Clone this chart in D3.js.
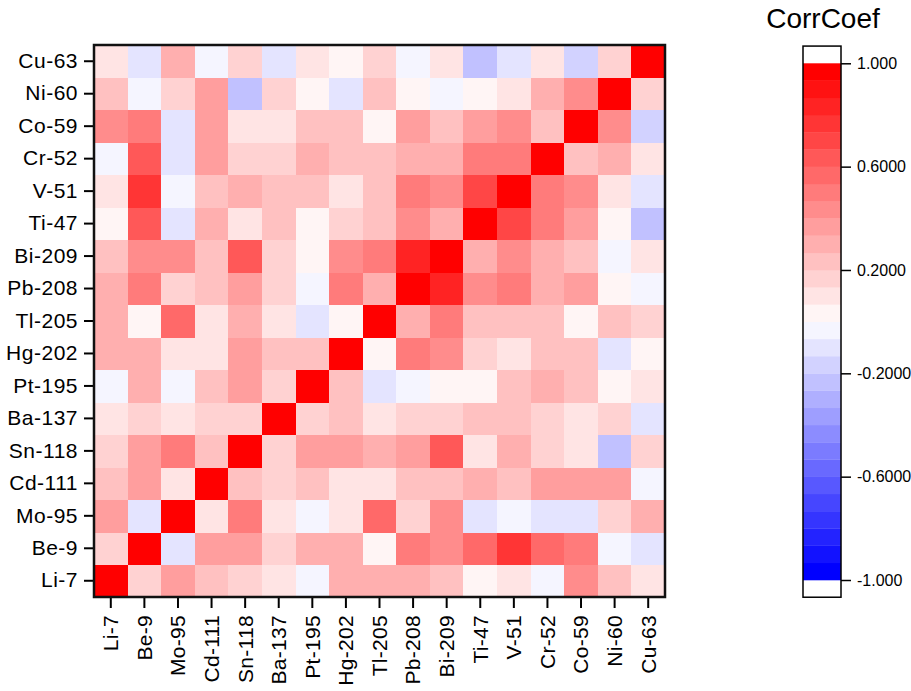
<!DOCTYPE html>
<html>
<head>
<meta charset="utf-8">
<script src="https://cdn.jsdelivr.net/npm/d3@7"></script>
<style>
  html, body { margin: 0; padding: 0; background: #fff; }
  svg { display: block; font-family: "Liberation Sans", Arial, sans-serif; }
</style>
</head>
<body>
<svg id="chart" width="911" height="691"></svg>
<script>
// ---- data ----
const elements = ["Li-7","Be-9","Mo-95","Cd-111","Sn-118","Ba-137","Pt-195","Hg-202","Tl-205","Pb-208","Bi-209","Ti-47","V-51","Cr-52","Co-59","Ni-60","Cu-63"];

// correlation rows, one per element (same order as `elements`)
const rowLi7  = [1, 0.17, 0.37, 0.23, 0.17, 0.10, -0.03, 0.30, 0.30, 0.30, 0.23, 0.03, 0.10, -0.03, 0.43, 0.23, 0.10];
const rowBe9  = [0.17, 1, -0.10, 0.37, 0.37, 0.17, 0.30, 0.30, 0.03, 0.50, 0.43, 0.57, 0.77, 0.57, 0.50, -0.03, -0.10];
const rowMo95 = [0.37, -0.10, 1, 0.10, 0.50, 0.10, -0.03, 0.10, 0.57, 0.17, 0.43, -0.10, -0.03, -0.10, -0.10, 0.17, 0.30];
const rowCd111= [0.23, 0.37, 0.10, 1, 0.23, 0.17, 0.23, 0.10, 0.10, 0.23, 0.23, 0.30, 0.23, 0.37, 0.37, 0.37, -0.03];
const rowSn118= [0.17, 0.37, 0.50, 0.23, 1, 0.17, 0.37, 0.37, 0.30, 0.37, 0.63, 0.10, 0.30, 0.17, 0.10, -0.23, 0.17];
const rowBa137= [0.10, 0.17, 0.10, 0.17, 0.17, 1, 0.17, 0.23, 0.10, 0.17, 0.17, 0.23, 0.23, 0.17, 0.10, 0.17, -0.10];
const rowPt195= [-0.03, 0.30, -0.03, 0.23, 0.37, 0.17, 1, 0.23, -0.10, -0.03, 0.03, 0.03, 0.23, 0.30, 0.23, 0.03, 0.10];
const rowHg202= [0.30, 0.30, 0.10, 0.10, 0.37, 0.23, 0.23, 1, 0.03, 0.50, 0.43, 0.17, 0.10, 0.23, 0.23, -0.10, 0.03];
const rowTl205= [0.30, 0.03, 0.57, 0.10, 0.30, 0.10, -0.10, 0.03, 1, 0.30, 0.50, 0.23, 0.23, 0.23, 0.03, 0.23, 0.17];
const rowPb208= [0.30, 0.50, 0.17, 0.23, 0.37, 0.17, -0.03, 0.50, 0.30, 1, 0.83, 0.43, 0.50, 0.30, 0.37, 0.03, -0.03];
const rowBi209= [0.23, 0.43, 0.43, 0.23, 0.63, 0.17, 0.03, 0.43, 0.50, 0.83, 1, 0.30, 0.43, 0.30, 0.23, -0.03, 0.10];
const rowTi47 = [0.03, 0.63, -0.10, 0.30, 0.10, 0.23, 0.03, 0.17, 0.23, 0.43, 0.30, 1, 0.70, 0.50, 0.37, 0.03, -0.23];
const rowV51  = [0.10, 0.77, -0.03, 0.23, 0.30, 0.23, 0.23, 0.10, 0.23, 0.50, 0.43, 0.70, 1, 0.50, 0.43, 0.10, -0.10];
const rowCr52 = [-0.03, 0.63, -0.10, 0.37, 0.17, 0.17, 0.30, 0.23, 0.23, 0.30, 0.30, 0.50, 0.50, 1, 0.23, 0.30, 0.10];
const rowCo59 = [0.43, 0.50, -0.10, 0.37, 0.10, 0.10, 0.23, 0.23, 0.03, 0.37, 0.23, 0.37, 0.43, 0.23, 1, 0.43, -0.17];
const rowNi60 = [0.23, -0.03, 0.17, 0.37, -0.23, 0.17, 0.03, -0.10, 0.23, 0.03, -0.03, 0.03, 0.10, 0.30, 0.43, 1, 0.17];
const rowCu63 = [0.10, -0.10, 0.30, -0.03, 0.17, -0.10, 0.10, 0.03, 0.17, -0.03, 0.10, -0.23, -0.10, 0.10, -0.17, 0.17, 1];

const corrRows = [rowLi7,rowBe9,rowMo95,rowCd111,rowSn118,rowBa137,rowPt195,rowHg202,rowTl205,rowPb208,rowBi209,rowTi47,rowV51,rowCr52,rowCo59,rowNi60,rowCu63];

const colorbarTicks = [1, 0.6, 0.2, -0.2, -0.6, -1];
const colorbarTickLabels = ["1.000", "0.6000", "0.2000", "-0.2000", "-0.6000", "-1.000"];
const legendTitle = "CorrCoef";

// ---- layout ----
const svg = d3.select("#chart");
const plot = { left: 94, right: 665, top: 45, bottom: 597 };
const nBins = 30;

// discrete blue-white-red palette (30 levels)
const palette = d3.range(nBins).map(k => {
  if (k >= nBins / 2) {
    const j = k - nBins / 2;
    const w = Math.round(245 - 17.5 * j);
    return `rgb(255,${w},${w})`;
  } else {
    const j = nBins / 2 - 1 - k;
    const w = Math.round(245 - 17.5 * j);
    return `rgb(${w},${w},255)`;
  }
});
const color = d3.scaleQuantize().domain([-1, 1]).range(palette);

const x = d3.scaleBand().domain(elements).range([plot.left, plot.right]).padding(0);
const y = d3.scaleBand().domain(elements.slice().reverse()).range([plot.top, plot.bottom]).padding(0);

const cells = [];
elements.forEach((rowName, i) => {
  elements.forEach((colName, j) => {
    cells.push({ row: rowName, col: colName, v: corrRows[i][j] });
  });
});

svg.append("g").selectAll("rect")
  .data(cells)
  .join("rect")
  .attr("x", d => x(d.col))
  .attr("y", d => y(d.row))
  .attr("width", x.bandwidth() + 0.5)
  .attr("height", y.bandwidth() + 0.5)
  .attr("fill", d => color(d.v))
  .attr("shape-rendering", "crispEdges");

// axes
const yAxis = svg.append("g")
  .attr("transform", `translate(${plot.left},0)`)
  .call(d3.axisLeft(y).tickSize(10).tickPadding(6));
yAxis.select(".domain").remove();
yAxis.selectAll(".tick line").attr("stroke", "#000").attr("stroke-width", 2);
yAxis.selectAll(".tick text")
  .attr("fill", "#000")
  .style("font-size", "21px")
  .style("letter-spacing", "0.5px");

const xAxis = svg.append("g")
  .attr("transform", `translate(0,${plot.bottom})`)
  .call(d3.axisBottom(x).tickSize(11).tickPadding(8));
xAxis.select(".domain").remove();
xAxis.selectAll(".tick line").attr("stroke", "#000").attr("stroke-width", 2);
xAxis.selectAll(".tick text")
  .attr("fill", "#000")
  .attr("transform", "rotate(-90)")
  .attr("text-anchor", "end")
  .attr("x", -18)
  .attr("y", 0)
  .attr("dy", "0.35em")
  .style("font-size", "21px")
  .style("letter-spacing", "0.3px");

// frame
svg.append("rect")
  .attr("x", plot.left).attr("y", plot.top)
  .attr("width", plot.right - plot.left).attr("height", plot.bottom - plot.top)
  .attr("fill", "none").attr("stroke", "#111").attr("stroke-width", 2.5);

// ---- colorbar ----
const cb = { left: 803, right: 841, top: 63.3, bottom: 580 };
const binH = (cb.bottom - cb.top) / nBins;
const cbY = d3.scaleLinear().domain([-1, 1]).range([cb.bottom, cb.top]);
const gcb = svg.append("g");
gcb.append("rect")
  .attr("x", cb.left).attr("y", cb.top - binH)
  .attr("width", cb.right - cb.left).attr("height", cb.bottom - cb.top + 2 * binH)
  .attr("fill", "#fff");
gcb.selectAll("rect.bin")
  .data(palette.map((c, k) => ({ c, lo: -1 + k * 2 / nBins, hi: -1 + (k + 1) * 2 / nBins })))
  .join("rect")
  .attr("class", "bin")
  .attr("x", cb.left)
  .attr("y", d => cbY(d.hi))
  .attr("width", cb.right - cb.left)
  .attr("height", d => cbY(d.lo) - cbY(d.hi) + 0.3)
  .attr("fill", d => d.c);
gcb.append("rect")
  .attr("x", cb.left).attr("y", cb.top - binH)
  .attr("width", cb.right - cb.left).attr("height", cb.bottom - cb.top + 2 * binH)
  .attr("fill", "none").attr("stroke", "#000").attr("stroke-width", 1.5);

const cbAxis = gcb.append("g")
  .attr("transform", `translate(${cb.right},0)`)
  .call(d3.axisRight(cbY).tickValues(colorbarTicks).tickSize(10).tickPadding(6)
    .tickFormat((d, i) => colorbarTickLabels[i]));
cbAxis.select(".domain").remove();
cbAxis.selectAll(".tick line").attr("stroke", "#000").attr("stroke-width", 1.5);
cbAxis.selectAll(".tick text").attr("fill", "#000").style("font-size", "16px");

svg.append("text")
  .attr("x", 823).attr("y", 28)
  .attr("text-anchor", "middle")
  .style("font-size", "28px")
  .attr("fill", "#000")
  .text(legendTitle);
</script>
</body>
</html>
